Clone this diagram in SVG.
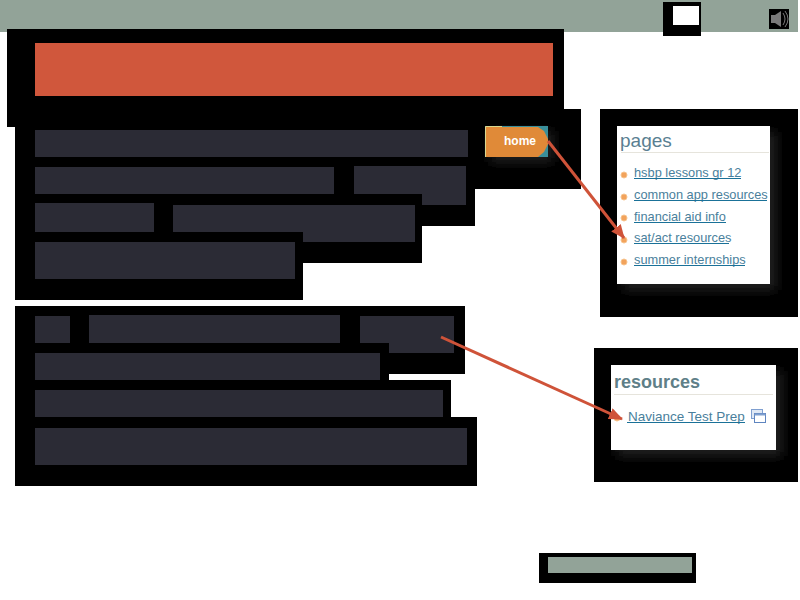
<svg xmlns="http://www.w3.org/2000/svg" width="800" height="600" viewBox="0 0 800 600">
<style>
.k{fill:#000}
.d{fill:#2b2b35}
.g{fill:#92a398}
.w{fill:#fff}
.r{fill:#e6e4dc}
.glow{fill:#222;filter:url(#b)}
.b{fill:#f2a35c;stroke:#f7c48f;stroke-width:1}
.t{font-family:"Liberation Sans",Arial,sans-serif}
.l{font-size:12.800px;fill:#4a7f9c}
.u{fill:none;stroke:#1a7198;stroke-width:1}
.c{fill:none;stroke:#cf5339;stroke-width:3;marker-end:url(#a)}
</style>
<defs>
<filter id="b" x="-30%" y="-30%" width="160%" height="160%"><feGaussianBlur stdDeviation="6"/></filter>
<marker id="a" markerUnits="userSpaceOnUse" markerWidth="14" markerHeight="12" refX="13" refY="6" orient="auto"><path d="M0 0L14 6L0 12z" fill="#cf5339"/></marker>
</defs>
<rect width="800" height="600" fill="#fff"/>
<g id="topbar">
<rect class="g" x="0" y="0" width="798" height="32"/>
<rect class="k" x="663" y="2" width="38" height="34"/>
<rect class="w" x="673" y="6" width="26" height="19"/>
<rect class="k" x="769" y="9" width="20" height="20"/>
<path d="M771 15h4l6-4v16l-6-4h-4z" fill="#7a7a7a"/>
<path d="M783 13q4 6 0 12M785 11q6 8 0 16" fill="none" stroke="#7a7a7a"/>
</g>
<g id="header">
<rect class="k" x="7" y="29" width="557" height="98"/>
<rect x="35" y="43" width="518" height="53" fill="#d0573c"/>
</g>
<g id="block1">
<path class="k" d="M15 109H581V189H475V226H422V263H303V300H15z"/>
<rect class="d" x="35" y="130" width="433" height="27"/>
<rect class="d" x="35" y="167" width="299" height="27"/>
<path class="d" d="M354 166H466V205H422V194H354z"/>
<rect class="d" x="35" y="203" width="119" height="29"/>
<path class="d" d="M173 205H415V242H303V232H173z"/>
<rect class="d" x="35" y="242" width="260" height="37"/>
</g>
<g id="home">
<rect class="glow" x="490" y="131" width="63" height="31"/>
<rect x="485" y="126" width="63" height="31" fill="#3a8f9a"/>
<path d="M485 127H538L544 131L548 139V144L544 152L538 157H485z" fill="#e08a38"/>
<path d="M485.500 157V126.500H502" fill="none" stroke="#d8d890"/>
<text class="t" x="504" y="145" font-size="12" font-weight="bold" fill="#fff">home</text>
</g>
<g id="block2">
<path class="k" d="M15 306H465V374H389V380H451V417H477V486H15z"/>
<rect class="d" x="35" y="316" width="35" height="27"/>
<rect class="d" x="89" y="315" width="251" height="28"/>
<path class="d" d="M360 316H454V353H389V343H360z"/>
<rect class="d" x="35" y="353" width="345" height="27"/>
<rect class="d" x="35" y="390" width="408" height="27"/>
<rect class="d" x="35" y="428" width="432" height="37"/>
</g>
<g id="pages">
<rect class="k" x="600" y="109" width="198" height="208"/>
<rect class="glow" x="623" y="132" width="153" height="158"/>
<rect class="w" x="617" y="126" width="153" height="158"/>
<text class="t" x="620" y="147" font-size="19" fill="#5a7f92">pages</text>
<rect class="r" x="621" y="152" width="148" height="1"/>
<circle class="b" cx="624" cy="175" r="3"/>
<circle class="b" cx="624" cy="197" r="3"/>
<circle class="b" cx="624" cy="218" r="3"/>
<circle class="b" cx="624" cy="240" r="3"/>
<circle class="b" cx="624" cy="262" r="3"/>
<text class="t l" x="634" y="177">hsbp lessons gr 12</text>
<text class="t l" x="634" y="199">common app resources</text>
<text class="t l" x="634" y="221">financial aid info</text>
<text class="t l" x="634" y="242">sat/act resources</text>
<text class="t l" x="634" y="264">summer internships</text>
<path class="u" d="M634 178.500H741M634 200.500H767M634 222.500H726M634 243.500H729M634 265.500H745"/>
</g>
<g id="resources">
<rect class="k" x="594" y="348" width="204" height="134"/>
<rect class="glow" x="617" y="371" width="165" height="85"/>
<rect class="w" x="611" y="365" width="165" height="85"/>
<text class="t" x="614" y="388" font-size="18" font-weight="bold" fill="#5f7f88">resources</text>
<rect class="r" x="614" y="394" width="159" height="1"/>
<circle class="b" cx="617" cy="418" r="3"/>
<text class="t l" x="628" y="421" style="font-size:13.500px">Naviance Test Prep</text>
<path class="u" d="M627 422.500H745"/>
<rect x="751.500" y="409.500" width="11" height="9" fill="#dfe8f5" stroke="#7f9fd0"/>
<rect x="754.500" y="413.500" width="11" height="9" fill="#fff" stroke="#5f85c0"/>
<rect x="754.500" y="413.500" width="11" height="2" fill="#7f9fd0"/>
</g>
<g id="footer">
<rect class="k" x="539" y="553" width="157" height="30"/>
<rect class="g" x="548" y="557" width="144" height="16"/>
</g>
<g id="connectors">
<path class="c" d="M548 141L624 238"/>
<path class="c" d="M441 337L622 419"/>
</g>
</svg>
